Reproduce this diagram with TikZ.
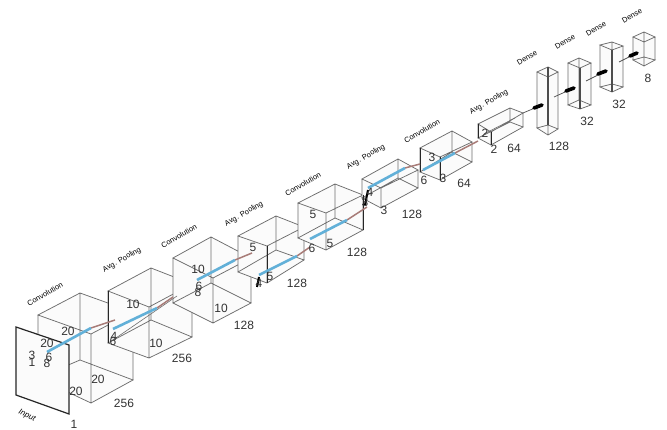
\documentclass[tikz,border=0pt]{standalone}
\usepackage{fontspec}
\setmainfont{Liberation Sans}
\definecolor{edgegray}{HTML}{6E6E6E}
\definecolor{flowblue}{HTML}{62B0D8}
\definecolor{flowbrown}{HTML}{A87C78}
\definecolor{facefill}{HTML}{FBFBFB}
\tikzset{
  x=1pt,y=-1pt,
  edge/.style={draw=edgegray,line width=0.75pt},
  dark/.style={draw=black!85,line width=1pt},
  num/.style={font=\fontsize{12}{12}\selectfont,text=black!80,inner sep=0pt},
  layername/.style={font=\fontsize{7.5}{8}\selectfont,text=black,rotate=30,inner sep=0pt},
  blueflow/.style={draw=flowblue,line width=2.6pt},
  brownflow/.style={draw=flowbrown,line width=1.5pt},
  thinflow/.style={draw=edgegray,line width=0.6pt},
  denseflow/.style={draw=black!70,line width=0.7pt},
  denseblob/.style={draw=black,line width=3.6pt,line cap=round},
}
% name, top L B R F, bottom L B R F
\newcommand{\cuboid}[9]{%
  \coordinate (#1tl) at #2; \coordinate (#1tb) at #3;
  \coordinate (#1tr) at #4; \coordinate (#1tf) at #5;
  \coordinate (#1bl) at #6; \coordinate (#1bb) at #7;
  \coordinate (#1br) at #8; \coordinate (#1bf) at #9;
  \fill[facefill] (#1tl)--(#1tb)--(#1tr)--(#1br)--(#1bf)--(#1bl)--cycle;
  \draw[edge] (#1tl)--(#1tb)--(#1tr)--(#1tf)--cycle (#1bl)--(#1bb)--(#1br)--(#1bf)--cycle
    (#1tl)--(#1bl) (#1tb)--(#1bb) (#1tr)--(#1br) (#1tf)--(#1bf);
}
\begin{document}
\begin{tikzpicture}
\useasboundingbox[fill=white] (0,0) rectangle (667,430);
\cuboid{a}{(38,315)}{(80,293)}{(133,312)}{(91,334)}{(38,378)}{(80,360)}{(133,380)}{(91,403)}
\cuboid{b}{(108,291)}{(151,268)}{(192,284)}{(149,307)}{(108,343)}{(151,320)}{(192,337)}{(149,358)}
\cuboid{c}{(173,258)}{(211,237)}{(251,258)}{(213,278)}{(173,303)}{(211,283)}{(251,303)}{(213,323)}
\cuboid{d}{(238,236)}{(276,216)}{(304,227)}{(267,246)}{(238,272)}{(276,250)}{(304,260)}{(267,283)}
\cuboid{e}{(298,203)}{(335,184)}{(363,195)}{(326,213)}{(298,238)}{(335,218)}{(363,230)}{(326,250)}
\cuboid{f}{(362,179)}{(398,159)}{(418,170)}{(381,188)}{(362,198)}{(398,178)}{(418,188)}{(381,208)}
\cuboid{g}{(420,148)}{(452,131)}{(472,142)}{(440,157)}{(420,172)}{(452,152)}{(472,162)}{(440,180)}
\cuboid{h}{(478,124)}{(510,108)}{(523,113)}{(491,132)}{(478,138)}{(510,122)}{(523,127)}{(491,145)}
\cuboid{i}{(537,72)}{(548,67)}{(558,72)}{(548,77)}{(537,128)}{(548,125)}{(558,129)}{(548,135)}
\cuboid{j}{(568,63)}{(579,58)}{(591,63)}{(580,68)}{(568,105)}{(579,100)}{(591,105)}{(580,109)}
\cuboid{k}{(600,45)}{(612,42)}{(623,46)}{(612,50)}{(600,87)}{(612,84)}{(623,87)}{(612,92)}
\cuboid{l}{(633,37)}{(644,32)}{(655,37)}{(644,42)}{(633,60)}{(644,57)}{(655,60)}{(644,66)}
% darker edges
\draw[dark] (btl)--(bbl);
\draw[dark] (dtf)--(dbf);
\draw[dark] (etr)--(ebr);
\draw[dark] (gtf)--(gbf) (gtl)--(gbl);
\draw[dark] (htl)--(hbl) (htf)--(hbf);
\draw[draw=black!70,line width=1.2pt] (itb)--(ibb) (jtf)--(jbf) (ktf)--(kbf);
% input plane
\coordinate (p1) at (16,327); \coordinate (p2) at (69,345);
\coordinate (p3) at (69,414); \coordinate (p4) at (16,395);
\fill[facefill] (p1)--(p2)--(p3)--(p4)--cycle;
\draw[draw=black!85,line width=1.2pt] (p1)--(p2)--(p3)--(p4)--cycle;
% flows
\coordinate (f1a) at (47,352); \coordinate (f1b) at (91,328); \coordinate (f1c) at (115,320);
\coordinate (f2a) at (113,329); \coordinate (f2b) at (157,308); \coordinate (f2c) at (173,297);
\coordinate (f2d) at (113,340); \coordinate (f2e) at (177,296);
\coordinate (f3a) at (197,280); \coordinate (f3b) at (235,260); \coordinate (f3c) at (252,253);
\coordinate (f4a) at (259,275); \coordinate (f4b) at (297,256); \coordinate (f4c) at (310,247);
\coordinate (f5a) at (310,239); \coordinate (f5b) at (347,220); \coordinate (f5c) at (367,207);
\coordinate (f6a) at (368,188); \coordinate (f6b) at (405,168); \coordinate (f6c) at (420,164);
\coordinate (f7a) at (423,170); \coordinate (f7b) at (455,153); \coordinate (f7c) at (478,141);
\draw[thinflow] (f2d)--(f2e);
\foreach \s in {1,...,7}{
  \draw[brownflow] (f\s b)--(f\s c);
  \draw[blueflow] (f\s a)--(f\s b);
}
\draw[draw=black,line width=2pt] (368,190)--(365,205) (259,277)--(257,287);
\draw[thinflow] (484,134)--(515,118);
% dense connectors
\coordinate (q1a) at (523,113); \coordinate (q1b) at (542,105); \coordinate (q1m) at (534,108);
\coordinate (q2a) at (554,97); \coordinate (q2b) at (574,88); \coordinate (q2m) at (566,91);
\coordinate (q3a) at (586,81); \coordinate (q3b) at (606,71); \coordinate (q3m) at (598,74);
\coordinate (q4a) at (619,62); \coordinate (q4b) at (637,53); \coordinate (q4m) at (630,56);
\foreach \s in {1,...,4}{
  \draw[denseflow] (q\s a)--(q\s b);
  \draw[denseblob] (q\s m)--(q\s b);
}
% numbers
\node[num] (n1) at (32,355) {3};
\node[num] (n2) at (32,362) {1};
\node[num] (n3) at (49,357) {6};
\node[num] (n4) at (47,363) {8};
\node[num] (n5) at (68,331) {20};
\node[num] (n6) at (47,343) {20};
\node[num] (n7) at (98,379) {20};
\node[num] (n8) at (76,391) {20};
\node[num] (n9) at (124,403) {256};
\node[num] (n10) at (74,424) {1};
\node[num] (n11) at (133,304) {10};
\node[num] (n12) at (114,336) {4};
\node[num] (n13) at (113,341) {6};
\node[num] (n14) at (156,343) {10};
\node[num] (n15) at (182,358) {256};
\node[num] (n16) at (198,269) {10};
\node[num] (n17) at (199,286) {6};
\node[num] (n18) at (198,292) {8};
\node[num] (n19) at (221,308) {10};
\node[num] (n20) at (244,325) {128};
\node[num] (n21) at (253,247) {5};
\node[num] (n22) at (259,283) {4};
\node[num] (n23) at (270,276) {5};
\node[num] (n24) at (297,283) {128};
\node[num] (n25) at (313,214) {5};
\node[num] (n26) at (312,248) {6};
\node[num] (n27) at (330,243) {5};
\node[num] (n28) at (357,252) {128};
\node[num] (n29) at (365,202) {3};
\node[num] (n30) at (370,192) {4};
\node[num] (n31) at (384,210) {3};
\node[num] (n32) at (412,214) {128};
\node[num] (n33) at (432,157) {3};
\node[num] (n34) at (424,180) {6};
\node[num] (n35) at (443,178) {3};
\node[num] (n36) at (464,183) {64};
\node[num] (n37) at (485,133) {2};
\node[num] (n38) at (494,149) {2};
\node[num] (n39) at (514,148) {64};
\node[num] (n40) at (559,146) {128};
\node[num] (n41) at (587,121) {32};
\node[num] (n42) at (619,104) {32};
\node[num] (n43) at (648,78) {8};
% layer names
\node[layername] (t1) at (45,294) {Convolution};
\node[layername] (t2) at (122,260) {Avg. Pooling};
\node[layername] (t3) at (179,236) {Convolution};
\node[layername] (t4) at (244,214) {Avg. Pooling};
\node[layername] (t5) at (303,184) {Convolution};
\node[layername] (t6) at (366,157) {Avg. Pooling};
\node[layername] (t7) at (422,131) {Convolution};
\node[layername] (t8) at (489,102) {Avg. Pooling};
\node[layername] (t9) at (527,58) {Dense};
\node[layername] (t10) at (565,42) {Dense};
\node[layername] (t11) at (596,29) {Dense};
\node[layername] (t12) at (632,16) {Dense};
\node[layername,rotate=-55,font=\fontsize{8}{8}\selectfont\itshape] (t13) at (27,416) {Input};
\end{tikzpicture}
\end{document}
